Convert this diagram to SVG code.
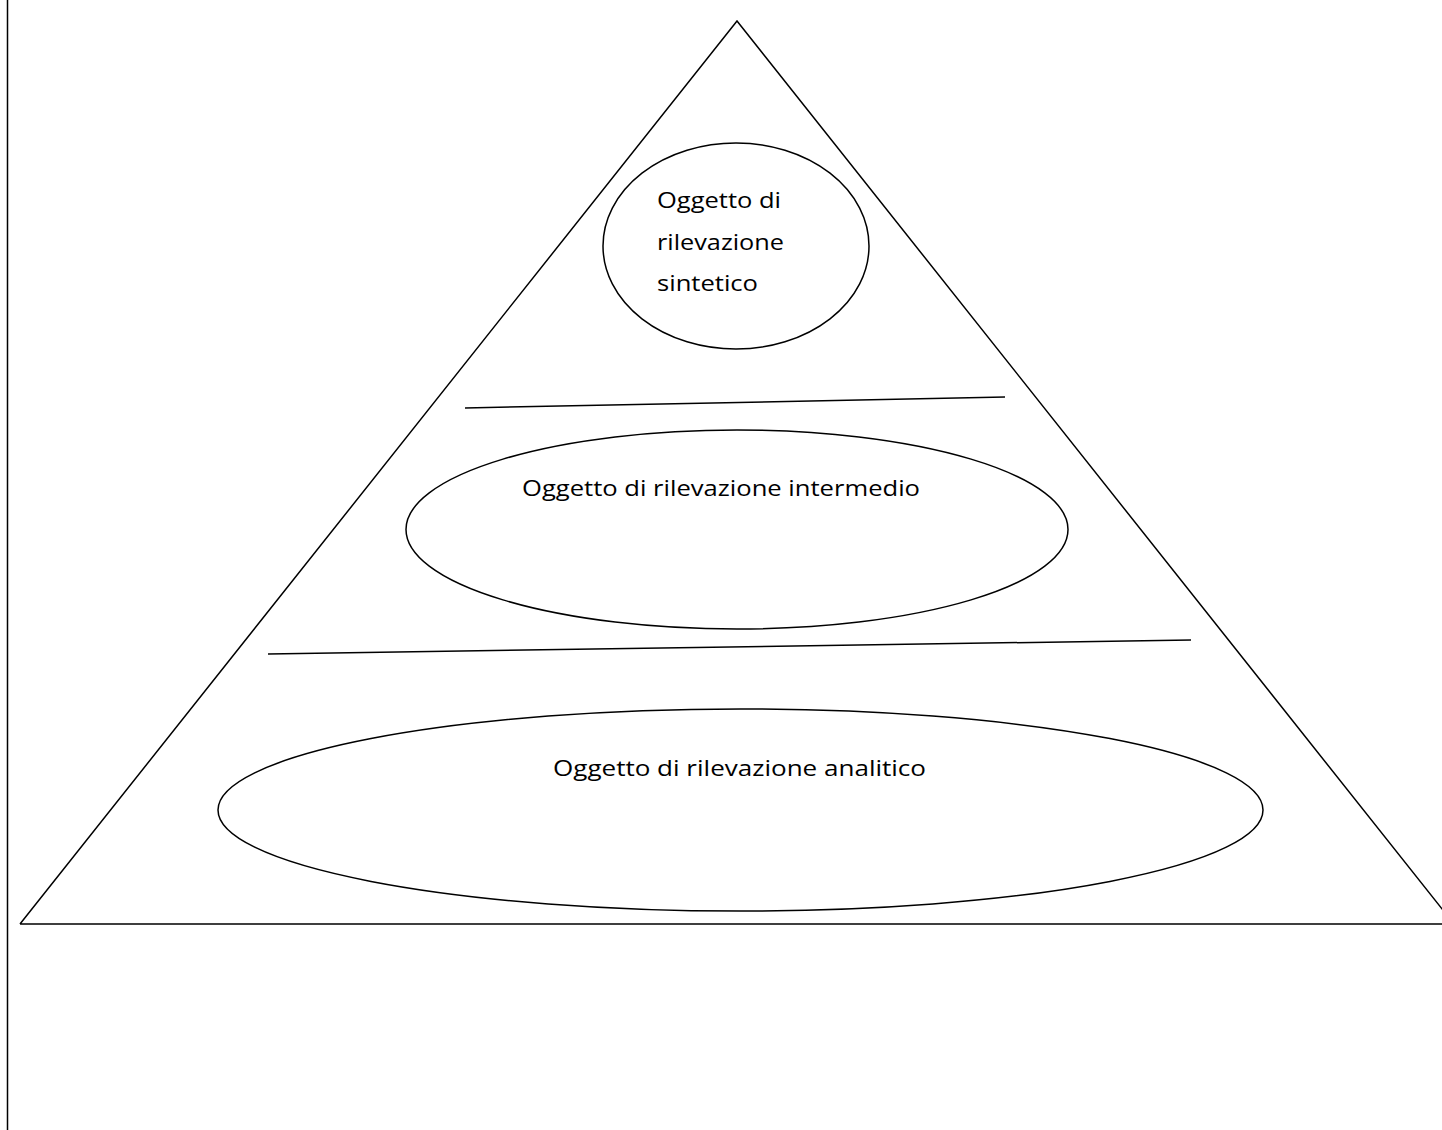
<svg xmlns="http://www.w3.org/2000/svg" width="1442" height="1130" viewBox="0 0 1442 1130">
<style>
.s{fill:none;stroke:#000;stroke-width:1.5}
.t{font-family:"Open Sans","Liberation Sans",sans-serif;font-size:22px;fill:#000}
</style>
<rect width="1442" height="1130" fill="#fff"/>
<g id="frame">
<line class="s" x1="7.5" y1="0" x2="7.5" y2="1130" stroke-width="2"/>
</g>
<g id="pyramid">
<polyline class="s" points="20,924 737,21 1454,924 20,924"/>
</g>
<g id="connectors">
<line class="s" x1="465" y1="408" x2="1005" y2="397"/>
<line class="s" x1="268" y1="654" x2="1191" y2="640"/>
</g>
<g id="node-sintetico">
<ellipse class="s" cx="736" cy="246" rx="133" ry="103"/>
<text class="t" x="657" y="208" textLength="124" lengthAdjust="spacingAndGlyphs">Oggetto di</text>
<text class="t" x="657" y="250" textLength="127" lengthAdjust="spacingAndGlyphs">rilevazione</text>
<text class="t" x="657" y="291" textLength="101" lengthAdjust="spacingAndGlyphs">sintetico</text>
</g>
<g id="node-intermedio">
<ellipse class="s" cx="737" cy="529.5" rx="331" ry="99.5"/>
<text class="t" x="522" y="496" textLength="398" lengthAdjust="spacingAndGlyphs">Oggetto di rilevazione intermedio</text>
</g>
<g id="node-analitico">
<ellipse class="s" cx="740.5" cy="810" rx="522.5" ry="101"/>
<text class="t" x="553" y="776" textLength="373" lengthAdjust="spacingAndGlyphs">Oggetto di rilevazione analitico</text>
</g>
</svg>
